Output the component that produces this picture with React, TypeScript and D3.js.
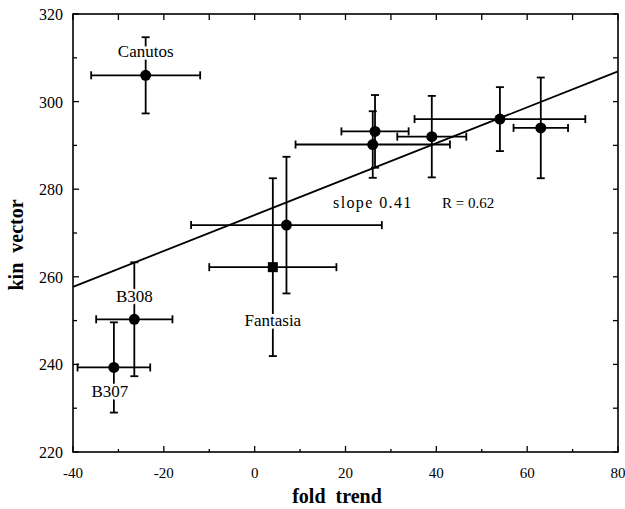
import React from 'react';
import * as d3 from 'd3';

// fold trend (x) and kin vector (y) with their error half-widths
const labels = ['Canutos', 'B308', 'B307', 'Fantasia', '', '', '', '', '', ''];
const foldTrend = [-24, -26.5, -31, 4, 7, 26.5, 26, 39, 54, 63];
const foldErr = [12, 8.4, 8, 14, 21, 7.4, 17, 7.6, 18.8, 6];
const kinVector = [306, 250.3, 239.3, 262.2, 271.8, 293.2, 290.2, 292, 296, 294];
const kinErr = [8.7, 13, 10.3, 20.3, 15.6, 8.3, 7.6, 9.3, 7.3, 11.5];

const xTicks = [-40, -20, 0, 20, 40, 60, 80];
const yTicks = [220, 240, 260, 280, 300, 320];

const fitSlope = 0.41;
const fitIntercept = 274.1;
const slopeText = 'slope 0.41';
const rText = 'R = 0.62';

const W = 625;
const H = 509;
const margin = { top: 14, right: 7, bottom: 57, left: 73 };

const App = () => {
  const x = d3.scaleLinear().domain([-40, 80]).range([margin.left, W - margin.right]);
  const y = d3.scaleLinear().domain([220, 320]).range([H - margin.bottom, margin.top]);

  const x0 = x.range()[0];
  const x1 = x.range()[1];
  const y0 = y.range()[0];
  const y1 = y.range()[1];

  const xMinor = d3.range(-40, 81, 10);
  const yMinor = d3.range(220, 321, 10);

  const data = foldTrend.map((f, i) => ({
    label: labels[i],
    x: f,
    xe: foldErr[i],
    y: kinVector[i],
    ye: kinErr[i],
  }));

  const line = d3.line<number>()
    .x(d => x(d))
    .y(d => y(fitIntercept + fitSlope * d));

  // label offsets in px relative to the point
  const labelPos: Record<string, [number, number]> = {
    Canutos: [0, -18],
    B308: [0, -17],
    B307: [-4, 30],
    Fantasia: [0, 59],
  };

  const cap = 4;
  const font = '"Liberation Serif", "Times New Roman", serif';

  return (
    <svg width={W} height={H} style={{ position: 'absolute', left: 0, top: 0, background: '#fff' }}>
      <rect x={0} y={0} width={W} height={H} fill="#fff" />

      {/* frame */}
      <rect x={x0} y={y1} width={x1 - x0} height={y0 - y1} fill="none" stroke="#000" strokeWidth={1.6} />

      {/* ticks */}
      {xMinor.map(v => {
        const major = v % 20 === 0;
        return (
          <g key={'xt' + v} stroke="#000" strokeWidth={1.3}>
            <line x1={x(v)} x2={x(v)} y1={y0} y2={y0 - (major ? 6 : 3)} />
            <line x1={x(v)} x2={x(v)} y1={y1} y2={y1 + 6} />
          </g>
        );
      })}
      {yMinor.map(v => {
        const major = v % 20 === 0;
        return (
          <g key={'yt' + v} stroke="#000" strokeWidth={1.3}>
            <line x1={x0} x2={x0 + (major ? 6 : 4)} y1={y(v)} y2={y(v)} />
            <line x1={x1} x2={x1 - 5} y1={y(v)} y2={y(v)} />
          </g>
        );
      })}

      {/* tick labels */}
      {xTicks.map(v => (
        <text key={'xl' + v} x={x(v)} y={478} textAnchor="middle" fontFamily={font} fontSize={15}>
          {v}
        </text>
      ))}
      {yTicks.map(v => (
        <text key={'yl' + v} x={x0 - 10} y={y(v) + 6} textAnchor="end" fontFamily={font} fontSize={16}>
          {v}
        </text>
      ))}

      {/* axis titles */}
      <text x={337} y={503} textAnchor="middle" fontFamily={font} fontSize={20} fontWeight="bold" wordSpacing={5}>
        fold trend
      </text>
      <text
        transform={`translate(23, 245) rotate(-90)`}
        textAnchor="middle"
        fontFamily={font}
        fontSize={20}
        fontWeight="bold"
        wordSpacing={5}
      >
        kin vector
      </text>

      {/* regression line */}
      <path d={line([-40, 80]) || ''} fill="none" stroke="#000" strokeWidth={1.8} />

      {/* error bars */}
      {data.map((d, i) => (
        <g key={'eb' + i} stroke="#000" strokeWidth={1.8}>
          <line x1={x(d.x - d.xe)} x2={x(d.x + d.xe)} y1={y(d.y)} y2={y(d.y)} />
          <line x1={x(d.x - d.xe)} x2={x(d.x - d.xe)} y1={y(d.y) - cap} y2={y(d.y) + cap} />
          <line x1={x(d.x + d.xe)} x2={x(d.x + d.xe)} y1={y(d.y) - cap} y2={y(d.y) + cap} />
          <line x1={x(d.x)} x2={x(d.x)} y1={y(d.y - d.ye)} y2={y(d.y + d.ye)} />
          <line x1={x(d.x) - cap} x2={x(d.x) + cap} y1={y(d.y - d.ye)} y2={y(d.y - d.ye)} />
          <line x1={x(d.x) - cap} x2={x(d.x) + cap} y1={y(d.y + d.ye)} y2={y(d.y + d.ye)} />
        </g>
      ))}

      {/* markers */}
      {data.map((d, i) =>
        d.label === 'Fantasia' ? (
          <rect key={'m' + i} x={x(d.x) - 5} y={y(d.y) - 5} width={10} height={10} fill="#000" />
        ) : (
          <circle key={'m' + i} cx={x(d.x)} cy={y(d.y)} r={5.5} fill="#000" />
        )
      )}

      {/* point labels */}
      {data.filter(d => d.label).map(d => {
        const off = labelPos[d.label] || [0, -15];
        return (
          <text
            key={'pl' + d.label}
            x={x(d.x) + off[0]}
            y={y(d.y) + off[1]}
            textAnchor="middle"
            fontFamily={font}
            fontSize={17}
            stroke="#fff"
            strokeWidth={5}
            paintOrder="stroke"
            fill="#000"
          >
            {d.label}
          </text>
        );
      })}

      {/* fit annotation */}
      <text x={333} y={208} fontFamily={font} fontSize={16} letterSpacing={1.4}>
        {slopeText}
      </text>
      <text x={442} y={208} fontFamily={font} fontSize={15}>
        {rText}
      </text>
    </svg>
  );
};

export default App;
